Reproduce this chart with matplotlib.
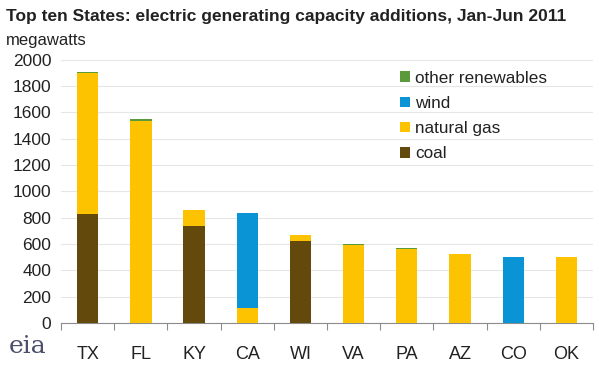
import matplotlib.pyplot as plt
import numpy as np

plt.rcParams['font.family'] = ['Liberation Sans', 'DejaVu Sans']

# data (megawatts)
states = ['TX', 'FL', 'KY', 'CA', 'WI', 'VA', 'PA', 'AZ', 'CO', 'OK']
coal = [830, 0, 735, 0, 620, 0, 0, 0, 0, 0]
natural_gas = [1070, 1535, 125, 110, 50, 592, 560, 522, 0, 503]
wind = [0, 0, 0, 722, 0, 0, 0, 0, 500, 0]
other_renewables = [10, 15, 0, 3, 0, 7, 7, 0, 0, 0]

colors = {'coal': '#634a0c', 'natural gas': '#fdc300',
          'wind': '#0a93d5', 'other renewables': '#5a9a3a'}

fig = plt.figure(figsize=(5.99, 3.69), dpi=100)
ax = fig.add_axes([0.102, 0.125, 0.888, 0.7127])

x = np.arange(len(states))
w = 0.4
bottom = np.zeros(len(states))
series = [('coal', coal), ('natural gas', natural_gas),
          ('wind', wind), ('other renewables', other_renewables)]
handles = {}
for name, vals in series:
    vals = np.array(vals, dtype=float)
    handles[name] = ax.bar(x, vals, w, bottom=bottom, color=colors[name],
                           label=name, zorder=3)
    bottom += vals

ax.set_xlim(-0.5, len(states) - 0.5)
ax.set_ylim(0, 2000)
ax.set_yticks(np.arange(0, 2001, 200))
ax.grid(axis='y', color='#e6e6e6', linewidth=0.8, zorder=0)
for s in ['top', 'right', 'left']:
    ax.spines[s].set_visible(False)
ax.spines['bottom'].set_color('#8c8c8c')
ax.tick_params(axis='y', length=0, labelsize=12.5, pad=7, labelcolor='#222222')
# ticks between categories, pointing down
ax.set_xticks(np.arange(-0.5, len(states)), minor=False)
ax.set_xticklabels([])
ax.tick_params(axis='x', which='major', direction='out', length=5,
               color='#8c8c8c')
ax.set_xticks(x, minor=True)
ax.set_xticklabels(states, minor=True)
ax.tick_params(axis='x', which='minor', length=0, labelsize=13, pad=17,
               labelcolor='#222222')

order = ['other renewables', 'wind', 'natural gas', 'coal']
leg = ax.legend([handles[n] for n in order], order, loc='upper left',
                bbox_to_anchor=(0.625, 0.985), frameon=False, fontsize=12.3,
                handlelength=0.55, handleheight=0.55, handletextpad=0.3,
                labelspacing=0.6, borderaxespad=0)
for t in leg.get_texts():
    t.set_color('#222222')

fig.text(0.01, 0.975, 'Top ten States: electric generating capacity additions, Jan-Jun 2011',
         fontsize=12.5, fontweight='bold', color='#222222', va='top')
fig.text(0.01, 0.91, 'megawatts', fontsize=12, color='#222222', va='top')
fig.text(0.015, 0.03, 'eia', fontsize=18, family='DejaVu Serif',
         color='#4a4f6a', va='bottom')

fig.savefig('out.png', dpi=100)
